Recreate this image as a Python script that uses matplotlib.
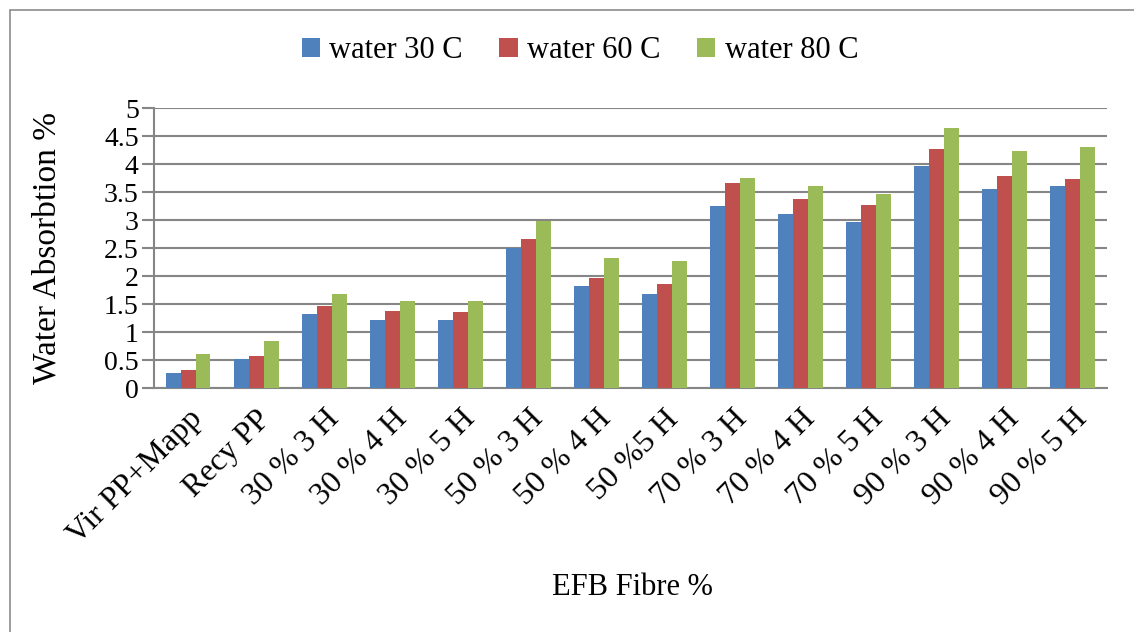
import matplotlib.pyplot as plt
import numpy as np
from matplotlib.patches import Rectangle

plt.rcParams["font.family"] = ["Liberation Serif", "DejaVu Serif"]

categories = ["Vir PP+Mapp", "Recy PP", "30 % 3 H", "30 % 4 H", "30 % 5 H",
              "50 % 3 H", "50 % 4 H", "50 %5 H", "70 % 3 H", "70 % 4 H",
              "70 % 5 H", "90 % 3 H", "90 % 4 H", "90 % 5 H"]
water_30 = [0.26, 0.51, 1.33, 1.22, 1.22, 2.51, 1.83, 1.68, 3.26, 3.11, 2.96, 3.96, 3.55, 3.61]
water_60 = [0.33, 0.57, 1.46, 1.38, 1.35, 2.67, 1.96, 1.86, 3.67, 3.37, 3.27, 4.27, 3.79, 3.73]
water_80 = [0.60, 0.84, 1.68, 1.56, 1.56, 2.99, 2.32, 2.26, 3.76, 3.61, 3.46, 4.64, 4.23, 4.30]
series = [("water 30 C", water_30, "#4F81BD"),
          ("water 60 C", water_60, "#C0504D"),
          ("water 80 C", water_80, "#9BBB59")]

fig = plt.figure(figsize=(11.34, 6.32), dpi=100)
ax = fig.add_axes([0.1358, 0.386, 0.8402, 0.443])

# chart border
fig.patches.append(Rectangle((0.009, -0.02), 1.1, 1.004, transform=fig.transFigure,
                             fill=False, edgecolor="#8c8c8c", lw=1.2))

x = np.arange(len(categories))
w = 0.22
for i, (name, vals, color) in enumerate(series):
    ax.bar(x + (i - 1) * w, vals, width=w, color=color, label=name, zorder=3)

ax.set_xlim(-0.5, len(categories) - 0.5)
ax.set_ylim(0, 5)
ax.set_yticks(np.arange(0, 5.01, 0.5))
ax.set_yticklabels(["0", "0.5", "1", "1.5", "2", "2.5", "3", "3.5", "4", "4.5", "5"])
ax.yaxis.grid(True, color="#868686", lw=1.5, zorder=0)
ax.set_xticks(x)
ax.set_xticklabels(categories, rotation=45, ha="right", rotation_mode="anchor")
ax.tick_params(axis="x", length=0, pad=12, labelsize=23)
ax.tick_params(axis="y", length=9, width=1.5, color="#868686", labelsize=20, pad=2)
for s in ["top", "right"]:
    ax.spines[s].set_visible(False)
for s in ["left", "bottom"]:
    ax.spines[s].set_color("#868686")
    ax.spines[s].set_linewidth(1.5)

ax.set_ylabel("Water Absorbtion %", fontsize=24, labelpad=30)
fig.text(0.558, 0.07, "EFB Fibre %", fontsize=22, ha="center", va="center")

ax.legend(loc="center", bbox_to_anchor=(0.447, 1.205), ncol=3, frameon=False,
          fontsize=22, handlelength=0.6, handleheight=0.6, handletextpad=0.3,
          columnspacing=1.2)

fig.savefig("out.png", dpi=100)
